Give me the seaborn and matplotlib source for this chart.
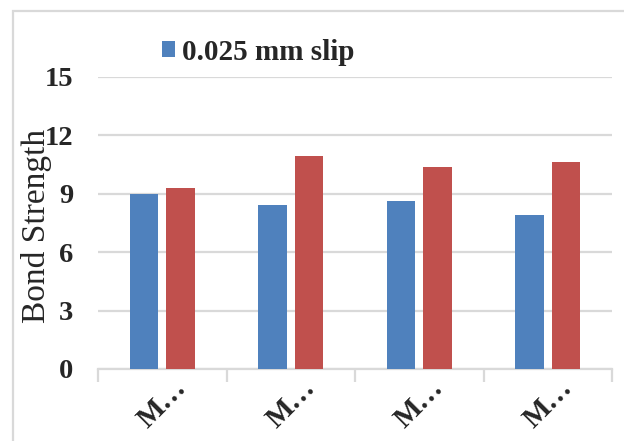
import matplotlib
matplotlib.use("Agg")
import matplotlib.pyplot as plt
from matplotlib.patches import Rectangle
from matplotlib.ticker import FixedLocator
import numpy as np
import pandas as pd
import seaborn as sns

# Data
categories = ["M\u2026", "M\u2026", "M\u2026", "M\u2026"]
category_ids = ["M1", "M2", "M3", "M4"]
series_names = ["0.025 mm slip", "0.05 mm slip"]
slip_0025 = [9.0, 8.4, 8.6, 7.9]
slip_005 = [9.3, 10.9, 10.35, 10.6]
y_ticks = [0, 3, 6, 9, 12, 15]

colors = ["#4f81bd", "#c0504d"]
grid_color = "#d9d9d9"

sns.set_theme(style="white")
plt.rcParams["font.family"] = ["Liberation Serif", "DejaVu Serif"]

df = pd.DataFrame({
    "mix": category_ids * 2,
    "series": [series_names[0]] * 4 + [series_names[1]] * 4,
    "value": slip_0025 + slip_005,
})

W, H = 624, 441
fig = plt.figure(figsize=(W / 100, H / 100), dpi=100)
ax = fig.add_axes([98 / W, (H - 369) / H, (612 - 98) / W, (369 - 76.5) / H])

sns.barplot(data=df, x="mix", y="value", hue="series", palette=colors,
            width=0.569, gap=0.215, saturation=1, errorbar=None,
            edgecolor="none", linewidth=0, legend=False, ax=ax, zorder=3)

ax.set_ylim(0, 15)
ax.set_xlim(-0.5, 3.5)
ax.set_yticks(y_ticks)
ax.set_yticklabels([str(t) for t in y_ticks], fontsize=20.5, fontweight="bold")
ax.yaxis.grid(True, color=grid_color, linewidth=1.6, zorder=0)
ax.set_axisbelow(True)
ax.tick_params(axis="y", length=0, pad=18)

ax.set_xticks(range(len(categories)))
ax.set_xticklabels(categories, fontsize=21, fontweight="bold",
                   rotation=45, ha="center", va="top")
ax.xaxis.set_minor_locator(FixedLocator(np.arange(-0.5, 4.0, 1.0)))
ax.tick_params(axis="x", which="major", length=0, pad=4)
ax.tick_params(axis="x", which="minor", length=9, width=1.6,
               color=grid_color, bottom=True)

for side in ["left", "right", "top"]:
    ax.spines[side].set_visible(False)
ax.spines["bottom"].set_color(grid_color)
ax.spines["bottom"].set_linewidth(1.6)

ax.set_xlabel("")
ax.set_ylabel("Bond Strength", fontsize=24)
ax.yaxis.set_label_coords((52 - 98) / (612 - 98), (369 - 226) / (369 - 76.5))

# Legend (first series only)
handle = Rectangle((0, 0), 1, 1, facecolor=colors[0], edgecolor="none")
fig.legend([handle], [series_names[0]], loc="center left",
           bbox_to_anchor=(162 / W, 1 - 52 / H), frameon=False,
           prop={"size": 21, "weight": "bold"}, handlelength=0.45,
           handleheight=0.45, handletextpad=0.25, borderpad=0, borderaxespad=0)

# Chart area border
fig.patches.append(Rectangle((13 / W, -0.2), 2.0, 1.2 - 11 / H,
                             transform=fig.transFigure, fill=False,
                             edgecolor=grid_color, linewidth=1.6))

fig.savefig("out.png", dpi=100)
